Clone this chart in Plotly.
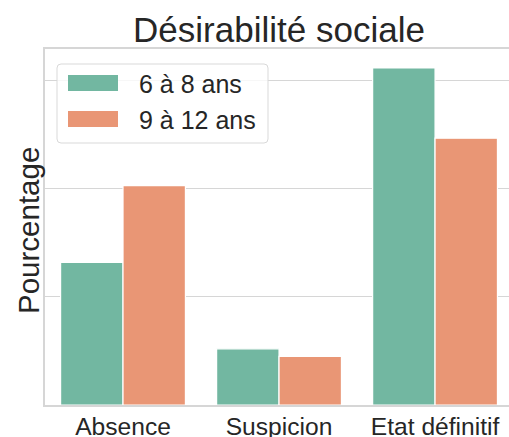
import plotly.graph_objects as go

categories = ["Absence", "Suspicion", "Etat définitif"]
series_names = ["6 à 8 ans", "9 à 12 ans"]
values_6_8 = [26.4, 10.4, 62.4]
values_9_12 = [40.6, 9.0, 49.4]
colors = ["#72b7a1", "#e99675"]

W, H = 509, 437
L, T, B, R = 45, 49, 32, 0
pw, ph = W - L - R, H - T - B

def px(x):
    return (x - L) / pw

def py(y):
    return (H - B - y) / ph

fig = go.Figure()
for name, vals, col in zip(series_names, [values_6_8, values_9_12], colors):
    fig.add_trace(go.Bar(x=categories, y=vals, name=name, marker_color=col,
                         marker_line_color="white", marker_line_width=1.2,
                         showlegend=False))

font = "Liberation Sans, Arial, sans-serif"
txt = "#262626"
grid = "#d6d6d6"

shapes = []
annotations = []
# legend box (rounded)
x0, x1, y0, y1, r = px(57), px(268), py(143), py(64), 4
rx, ry = r / pw, r / ph
path = (f"M{x0+rx},{y0} L{x1-rx},{y0} Q{x1},{y0} {x1},{y0+ry} L{x1},{y1-ry} "
        f"Q{x1},{y1} {x1-rx},{y1} L{x0+rx},{y1} Q{x0},{y1} {x0},{y1-ry} "
        f"L{x0},{y0+ry} Q{x0},{y0} {x0+rx},{y0} Z")
shapes.append(dict(type="path", xref="paper", yref="paper", path=path,
                   fillcolor="rgba(255,255,255,0.8)", line=dict(color="#d9d9d9", width=1),
                   layer="above"))
for i, (name, col) in enumerate(zip(series_names, colors)):
    top = 75 + i * 36
    shapes.append(dict(type="rect", xref="paper", yref="paper",
                       x0=px(68), x1=px(118), y0=py(top + 16), y1=py(top),
                       fillcolor=col, line=dict(width=0), layer="above"))
    annotations.append(dict(text=name, xref="paper", yref="paper", x=px(137),
                            y=py(top + 9), xanchor="left", yanchor="middle",
                            showarrow=False, font=dict(size=25, color=txt, family=font)))

annotations.append(dict(text="Pourcentage", xref="paper", yref="paper", x=px(28),
                        y=py(231), xanchor="center", yanchor="middle", textangle=-90,
                        showarrow=False, font=dict(size=29.5, color=txt, family=font)))

fig.update_layout(
    width=W, height=H,
    margin=dict(l=L, r=R, t=T, b=B, autoexpand=False),
    plot_bgcolor="white", paper_bgcolor="white",
    barmode="group", bargap=0.2, bargroupgap=0,
    title=dict(text="Désirabilité sociale", x=px(279), xanchor="center",
               xref="paper", yref="container", y=1 - 30 / H, yanchor="middle",
               font=dict(size=35, color=txt, family=font)),
    xaxis=dict(range=[-0.5, 2.474], showgrid=False, showline=True, linecolor=grid,
               linewidth=1.5, mirror=True, ticks="", ticklabelstandoff=-1, automargin=False,
               tickfont=dict(size=24.6, color=txt, family=font)),
    yaxis=dict(range=[0, 65.9], tickvals=[0, 20, 40, 60], showticklabels=False,
               showgrid=True, gridcolor=grid, gridwidth=1.3, showline=True, automargin=False,
               linecolor=grid, linewidth=1.5, zeroline=False, ticks=""),
    shapes=shapes, annotations=annotations,
)
fig.write_html("out.html", config={"displayModeBar": False},
               post_script="document.body.style.margin='0';document.body.style.overflow='hidden';")
